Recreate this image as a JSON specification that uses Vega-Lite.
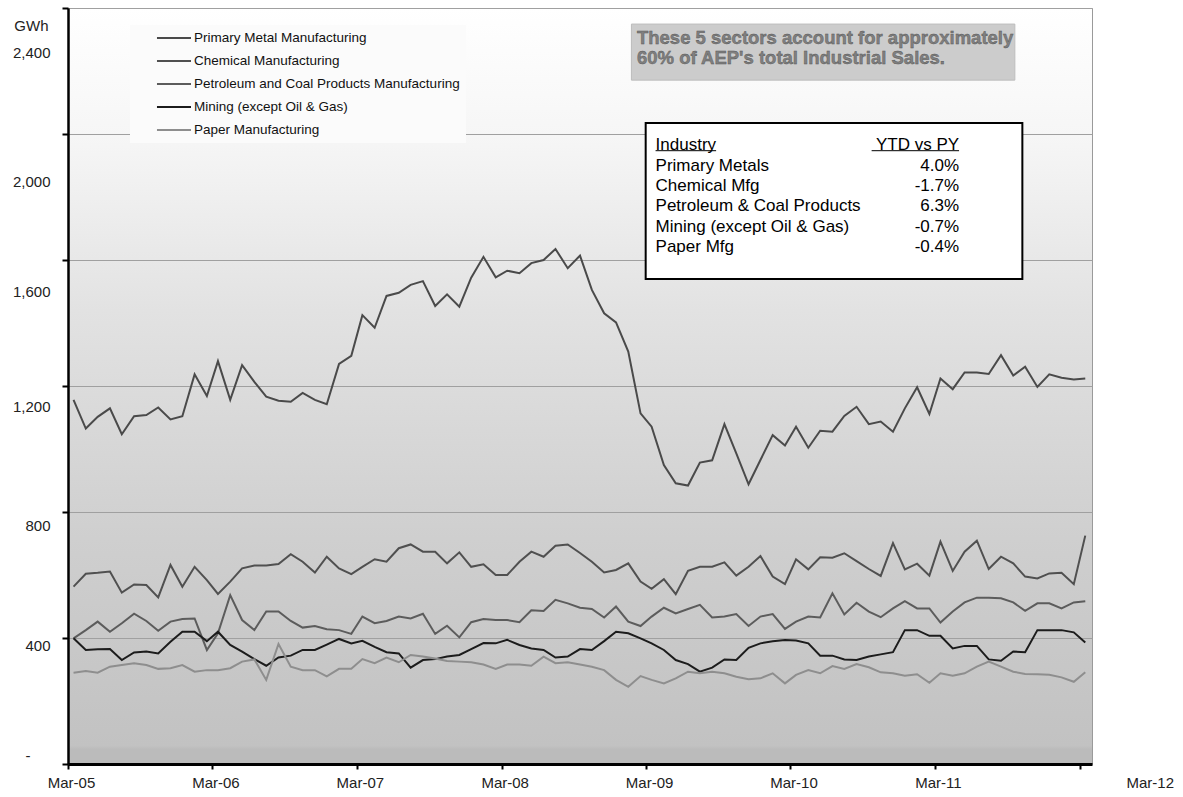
{
  "$schema": "https://vega.github.io/schema/vega-lite/v6.json",
  "width": 1024,
  "height": 756,
  "autosize": "none",
  "padding": {"left": 68, "top": 8, "right": 91, "bottom": 33},
  "background": "#ffffff",
  "view": {
    "stroke": "#9a9a9a",
    "strokeWidth": 1,
    "fill": {"gradient": "linear", "x1": 0, "y1": 0, "x2": 0, "y2": 1,
      "stops": [
        {"offset": 0, "color": "#ffffff"},
        {"offset": 0.17, "color": "#f6f6f6"},
        {"offset": 0.4, "color": "#e2e2e2"},
        {"offset": 0.7, "color": "#cfcfcf"},
        {"offset": 0.975, "color": "#c2c2c2"},
        {"offset": 0.98, "color": "#bbbbbb"},
        {"offset": 1, "color": "#bbbbbb"}
      ]}
  },
  "config": {"font": "Liberation Sans"},
  "data": {"values": [
    {"date":"2005-03-15","metal":1156,"chem":563,"petro":399,"mining":399,"paper":290},
    {"date":"2005-04-15","metal":1065,"chem":604,"petro":425,"mining":362,"paper":295},
    {"date":"2005-05-15","metal":1102,"chem":607,"petro":452,"mining":364,"paper":290},
    {"date":"2005-06-15","metal":1129,"chem":611,"petro":420,"mining":365,"paper":309},
    {"date":"2005-07-15","metal":1047,"chem":544,"petro":447,"mining":330,"paper":314},
    {"date":"2005-08-15","metal":1104,"chem":570,"petro":477,"mining":354,"paper":320},
    {"date":"2005-09-15","metal":1108,"chem":568,"petro":454,"mining":357,"paper":314},
    {"date":"2005-10-15","metal":1132,"chem":529,"petro":423,"mining":351,"paper":302},
    {"date":"2005-11-15","metal":1094,"chem":632,"petro":452,"mining":388,"paper":304},
    {"date":"2005-12-15","metal":1104,"chem":563,"petro":460,"mining":420,"paper":314},
    {"date":"2006-01-15","metal":1237,"chem":626,"petro":462,"mining":420,"paper":293},
    {"date":"2006-02-15","metal":1168,"chem":584,"petro":362,"mining":390,"paper":298},
    {"date":"2006-03-15","metal":1279,"chem":540,"petro":415,"mining":420,"paper":298},
    {"date":"2006-04-15","metal":1156,"chem":579,"petro":536,"mining":378,"paper":304},
    {"date":"2006-05-15","metal":1266,"chem":621,"petro":457,"mining":357,"paper":325},
    {"date":"2006-06-15","metal":1213,"chem":630,"petro":425,"mining":333,"paper":332},
    {"date":"2006-07-15","metal":1166,"chem":630,"petro":484,"mining":312,"paper":267},
    {"date":"2006-08-15","metal":1153,"chem":635,"petro":484,"mining":338,"paper":381},
    {"date":"2006-09-15","metal":1150,"chem":666,"petro":454,"mining":344,"paper":309},
    {"date":"2006-10-15","metal":1178,"chem":642,"petro":433,"mining":362,"paper":298},
    {"date":"2006-11-15","metal":1156,"chem":608,"petro":438,"mining":362,"paper":298},
    {"date":"2006-12-15","metal":1142,"chem":658,"petro":428,"mining":379,"paper":278},
    {"date":"2007-01-15","metal":1270,"chem":621,"petro":425,"mining":397,"paper":302},
    {"date":"2007-02-15","metal":1296,"chem":603,"petro":413,"mining":383,"paper":302},
    {"date":"2007-03-15","metal":1425,"chem":626,"petro":468,"mining":391,"paper":333},
    {"date":"2007-04-15","metal":1385,"chem":650,"petro":447,"mining":372,"paper":320},
    {"date":"2007-05-15","metal":1486,"chem":642,"petro":454,"mining":355,"paper":338},
    {"date":"2007-06-15","metal":1496,"chem":685,"petro":468,"mining":351,"paper":323},
    {"date":"2007-07-15","metal":1521,"chem":697,"petro":462,"mining":306,"paper":346},
    {"date":"2007-08-15","metal":1533,"chem":674,"petro":477,"mining":330,"paper":341},
    {"date":"2007-09-15","metal":1454,"chem":674,"petro":413,"mining":333,"paper":335},
    {"date":"2007-10-15","metal":1491,"chem":637,"petro":439,"mining":341,"paper":327},
    {"date":"2007-11-15","metal":1452,"chem":672,"petro":402,"mining":346,"paper":325},
    {"date":"2007-12-15","metal":1544,"chem":626,"petro":450,"mining":365,"paper":323},
    {"date":"2008-01-15","metal":1610,"chem":634,"petro":460,"mining":384,"paper":316},
    {"date":"2008-02-15","metal":1545,"chem":600,"petro":457,"mining":383,"paper":302},
    {"date":"2008-03-15","metal":1566,"chem":600,"petro":457,"mining":394,"paper":316},
    {"date":"2008-04-15","metal":1558,"chem":642,"petro":450,"mining":378,"paper":316},
    {"date":"2008-05-15","metal":1590,"chem":674,"petro":488,"mining":367,"paper":312},
    {"date":"2008-06-15","metal":1600,"chem":658,"petro":486,"mining":362,"paper":341},
    {"date":"2008-07-15","metal":1635,"chem":693,"petro":521,"mining":338,"paper":320},
    {"date":"2008-08-15","metal":1574,"chem":697,"petro":510,"mining":341,"paper":323},
    {"date":"2008-09-15","metal":1614,"chem":670,"petro":496,"mining":365,"paper":316},
    {"date":"2008-10-15","metal":1505,"chem":642,"petro":492,"mining":362,"paper":309},
    {"date":"2008-11-15","metal":1431,"chem":608,"petro":465,"mining":390,"paper":298},
    {"date":"2008-12-15","metal":1402,"chem":616,"petro":500,"mining":420,"paper":267},
    {"date":"2009-01-15","metal":1309,"chem":637,"petro":452,"mining":415,"paper":245},
    {"date":"2009-02-15","metal":1113,"chem":579,"petro":438,"mining":399,"paper":279},
    {"date":"2009-03-15","metal":1071,"chem":556,"petro":468,"mining":383,"paper":267},
    {"date":"2009-04-15","metal":949,"chem":587,"petro":496,"mining":362,"paper":256},
    {"date":"2009-05-15","metal":891,"chem":539,"petro":478,"mining":330,"paper":272},
    {"date":"2009-06-15","metal":884,"chem":613,"petro":492,"mining":317,"paper":293},
    {"date":"2009-07-15","metal":957,"chem":626,"petro":505,"mining":293,"paper":288},
    {"date":"2009-08-15","metal":964,"chem":626,"petro":465,"mining":306,"paper":293},
    {"date":"2009-09-15","metal":1079,"chem":640,"petro":468,"mining":332,"paper":288},
    {"date":"2009-10-15","metal":986,"chem":598,"petro":476,"mining":330,"paper":277},
    {"date":"2009-11-15","metal":888,"chem":626,"petro":438,"mining":369,"paper":269},
    {"date":"2009-12-15","metal":965,"chem":660,"petro":468,"mining":383,"paper":272},
    {"date":"2010-01-15","metal":1044,"chem":595,"petro":476,"mining":390,"paper":288},
    {"date":"2010-02-15","metal":1011,"chem":571,"petro":429,"mining":394,"paper":256},
    {"date":"2010-03-15","metal":1071,"chem":650,"petro":452,"mining":392,"paper":283},
    {"date":"2010-04-15","metal":1004,"chem":618,"petro":468,"mining":383,"paper":298},
    {"date":"2010-05-15","metal":1058,"chem":656,"petro":465,"mining":344,"paper":288},
    {"date":"2010-06-15","metal":1055,"chem":655,"petro":542,"mining":344,"paper":311},
    {"date":"2010-07-15","metal":1105,"chem":669,"petro":475,"mining":332,"paper":302},
    {"date":"2010-08-15","metal":1134,"chem":644,"petro":512,"mining":330,"paper":317},
    {"date":"2010-09-15","metal":1079,"chem":619,"petro":484,"mining":341,"paper":307},
    {"date":"2010-10-15","metal":1087,"chem":597,"petro":466,"mining":348,"paper":291},
    {"date":"2010-11-15","metal":1055,"chem":701,"petro":494,"mining":355,"paper":288},
    {"date":"2010-12-15","metal":1129,"chem":618,"petro":517,"mining":425,"paper":280},
    {"date":"2011-01-15","metal":1196,"chem":636,"petro":494,"mining":425,"paper":285},
    {"date":"2011-02-15","metal":1111,"chem":598,"petro":494,"mining":407,"paper":258},
    {"date":"2011-03-15","metal":1224,"chem":706,"petro":449,"mining":407,"paper":288},
    {"date":"2011-04-15","metal":1190,"chem":613,"petro":484,"mining":367,"paper":280},
    {"date":"2011-05-15","metal":1243,"chem":674,"petro":513,"mining":375,"paper":288},
    {"date":"2011-06-15","metal":1243,"chem":709,"petro":528,"mining":375,"paper":309},
    {"date":"2011-07-15","metal":1238,"chem":619,"petro":528,"mining":332,"paper":325},
    {"date":"2011-08-15","metal":1298,"chem":658,"petro":526,"mining":328,"paper":309},
    {"date":"2011-09-15","metal":1233,"chem":637,"petro":513,"mining":357,"paper":293},
    {"date":"2011-10-15","metal":1261,"chem":595,"petro":486,"mining":355,"paper":286},
    {"date":"2011-11-15","metal":1197,"chem":589,"petro":510,"mining":425,"paper":285},
    {"date":"2011-12-15","metal":1237,"chem":605,"petro":510,"mining":425,"paper":283},
    {"date":"2012-01-15","metal":1226,"chem":607,"petro":494,"mining":425,"paper":275},
    {"date":"2012-02-15","metal":1221,"chem":571,"petro":513,"mining":418,"paper":261},
    {"date":"2012-03-15","metal":1224,"chem":725,"petro":517,"mining":386,"paper":291}
  ]},
  "layer": [
    {
      "transform": [{"fold": ["metal", "chem", "petro", "mining", "paper"], "as": ["industry", "gwh"]}],
      "mark": {"type": "line", "strokeWidth": 2, "interpolate": "linear"},
      "encoding": {
        "x": {
          "field": "date", "type": "temporal",
          "scale": {"type": "utc", "domain": [{"year": 2005, "month": 3, "date": 1, "utc": true}, {"year": 2012, "month": 4, "date": 1, "utc": true}]},
          "axis": {
            "values": [
              {"year": 2005, "month": 3, "date": 1, "utc": true},
              {"year": 2006, "month": 3, "date": 1, "utc": true},
              {"year": 2007, "month": 3, "date": 1, "utc": true},
              {"year": 2008, "month": 3, "date": 1, "utc": true},
              {"year": 2009, "month": 3, "date": 1, "utc": true},
              {"year": 2010, "month": 3, "date": 1, "utc": true},
              {"year": 2011, "month": 3, "date": 1, "utc": true},
              {"year": 2012, "month": 3, "date": 1, "utc": true}
            ],
            "format": "%b-%y",
            "title": null,
            "grid": false,
            "domainColor": "#000000",
            "domainWidth": 3,
            "tickColor": "#000000",
            "tickSize": 5,
            "tickWidth": 2,
            "labelFontSize": 15,
            "labelColor": "#222222",
            "labelPadding": 6,
            "labelFlush": false,
            "labelOverlap": false,
            "labelOffset": {"condition": {"test": "datum.value > 1325376000000", "value": 70}, "value": 3}
          }
        },
        "y": {
          "field": "gwh", "type": "quantitative",
          "scale": {"domain": [0, 2400], "nice": false},
          "axis": {
            "values": [0, 400, 800, 1200, 1600, 2000, 2400],
            "labelExpr": "datum.value == 0 ? '-' : format(datum.value, ',')",
            "grid": true,
            "gridColor": "#a0a0a0",
            "gridWidth": 1,
            "domainColor": "#000000",
            "domainWidth": 2.5,
            "tickColor": "#000000",
            "tickSize": 6,
            "tickWidth": 2,
            "labelFontSize": 15,
            "labelColor": "#222222",
            "labelPadding": {"condition": {"test": "datum.value == 0", "value": 32}, "value": 12},
            "labelFlush": false,
            "labelOverlap": false,
            "labelOffset": {"condition": [
              {"test": "datum.value == 2400", "value": 44},
              {"test": "datum.value == 2000", "value": 47},
              {"test": "datum.value == 1600", "value": 31},
              {"test": "datum.value == 1200", "value": 20},
              {"test": "datum.value == 800", "value": 13},
              {"test": "datum.value == 400", "value": 7}
            ], "value": -9},
            "title": "GWh",
            "titleAngle": 0,
            "titleFontSize": 15,
            "titleFontWeight": "normal",
            "titleColor": "#222222",
            "titleAlign": "right",
            "titleBaseline": "middle",
            "titleX": -20,
            "titleY": 17
          }
        },
        "color": {
          "field": "industry", "type": "nominal",
          "scale": {"domain": ["metal", "chem", "petro", "mining", "paper"], "range": ["#4a4a4a", "#505050", "#5c5c5c", "#1c1c1c", "#8e8e8e"]},
          "legend": {
            "orient": "none",
            "legendX": 62,
            "legendY": 17,
            "title": null,
            "symbolType": "M-4.67,0H1",
            "symbolSize": 144,
            "symbolStrokeWidth": 2,
            "symbolOffset": 42,
            "labelFontSize": 13.5,
            "labelColor": "#111111",
            "labelLimit": 600,
            "labelOffset": 2,
            "rowPadding": 9,
            "padding": 6,
            "fillColor": "#fbfbfb",
            "labelExpr": "datum.label == 'metal' ? 'Primary Metal Manufacturing' : datum.label == 'chem' ? 'Chemical Manufacturing' : datum.label == 'petro' ? 'Petroleum and Coal Products Manufacturing' : datum.label == 'mining' ? 'Mining (except Oil & Gas)' : 'Paper Manufacturing'"
          }
        }
      }
    },
    {
      "data": {"values": [{}]},
      "mark": {"type": "rect", "fill": "#cccccc", "stroke": "#bdbdbd", "strokeWidth": 1},
      "encoding": {
        "x": {"datum": {"year": 2009, "month": 1, "date": 23, "utc": true}, "type": "temporal"},
        "x2": {"datum": {"year": 2011, "month": 9, "date": 19, "utc": true}},
        "y": {"datum": 2349, "type": "quantitative"},
        "y2": {"datum": 2171}
      }
    },
    {
      "data": {"values": [{}]},
      "mark": {"type": "text", "text": ["These 5 sectors account for approximately", "60% of AEP's total Industrial Sales."], "align": "left", "baseline": "top", "fontSize": 18.5, "fontWeight": "bold", "lineHeight": 19.5, "fill": "#808080", "stroke": "#555555", "strokeWidth": 0.4},
      "encoding": {
        "x": {"datum": {"year": 2009, "month": 2, "date": 6, "utc": true}, "type": "temporal"},
        "y": {"datum": 2332, "type": "quantitative"}
      }
    },
    {
      "data": {"values": [{}]},
      "mark": {"type": "rect", "fill": "#ffffff", "stroke": "#000000", "strokeWidth": 2},
      "encoding": {
        "x": {"datum": {"year": 2009, "month": 2, "date": 28, "utc": true}, "type": "temporal"},
        "x2": {"datum": {"year": 2011, "month": 10, "date": 8, "utc": true}},
        "y": {"datum": 2035, "type": "quantitative"},
        "y2": {"datum": 1540}
      }
    },
    {
      "data": {"values": [{}]},
      "mark": {"type": "text", "text": ["Industry", "Primary Metals", "Chemical Mfg", "Petroleum & Coal Products", "Mining (except Oil & Gas)", "Paper Mfg"], "align": "left", "baseline": "top", "fontSize": 17, "lineHeight": 20.4, "fill": "#000000"},
      "encoding": {
        "x": {"datum": {"year": 2009, "month": 3, "date": 25, "utc": true}, "type": "temporal"},
        "y": {"datum": 1990, "type": "quantitative"}
      }
    },
    {
      "data": {"values": [{}]},
      "mark": {"type": "text", "text": ["YTD vs PY", "4.0%", "-1.7%", "6.3%", "-0.7%", "-0.4%"], "align": "right", "baseline": "top", "fontSize": 17, "lineHeight": 20.4, "fill": "#000000"},
      "encoding": {
        "x": {"datum": {"year": 2011, "month": 5, "date": 1, "utc": true}, "type": "temporal"},
        "y": {"datum": 1990, "type": "quantitative"}
      }
    },
    {
      "data": {"values": [{}]},
      "mark": {"type": "rule", "stroke": "#000000", "strokeWidth": 1},
      "encoding": {
        "x": {"datum": {"year": 2009, "month": 3, "date": 25, "utc": true}, "type": "temporal"},
        "x2": {"datum": {"year": 2009, "month": 8, "date": 25, "utc": true}},
        "y": {"datum": 1947, "type": "quantitative"}
      }
    },
    {
      "data": {"values": [{}]},
      "mark": {"type": "rule", "stroke": "#000000", "strokeWidth": 1},
      "encoding": {
        "x": {"datum": {"year": 2010, "month": 9, "date": 22, "utc": true}, "type": "temporal"},
        "x2": {"datum": {"year": 2011, "month": 5, "date": 1, "utc": true}},
        "y": {"datum": 1947, "type": "quantitative"}
      }
    }
  ]
}
